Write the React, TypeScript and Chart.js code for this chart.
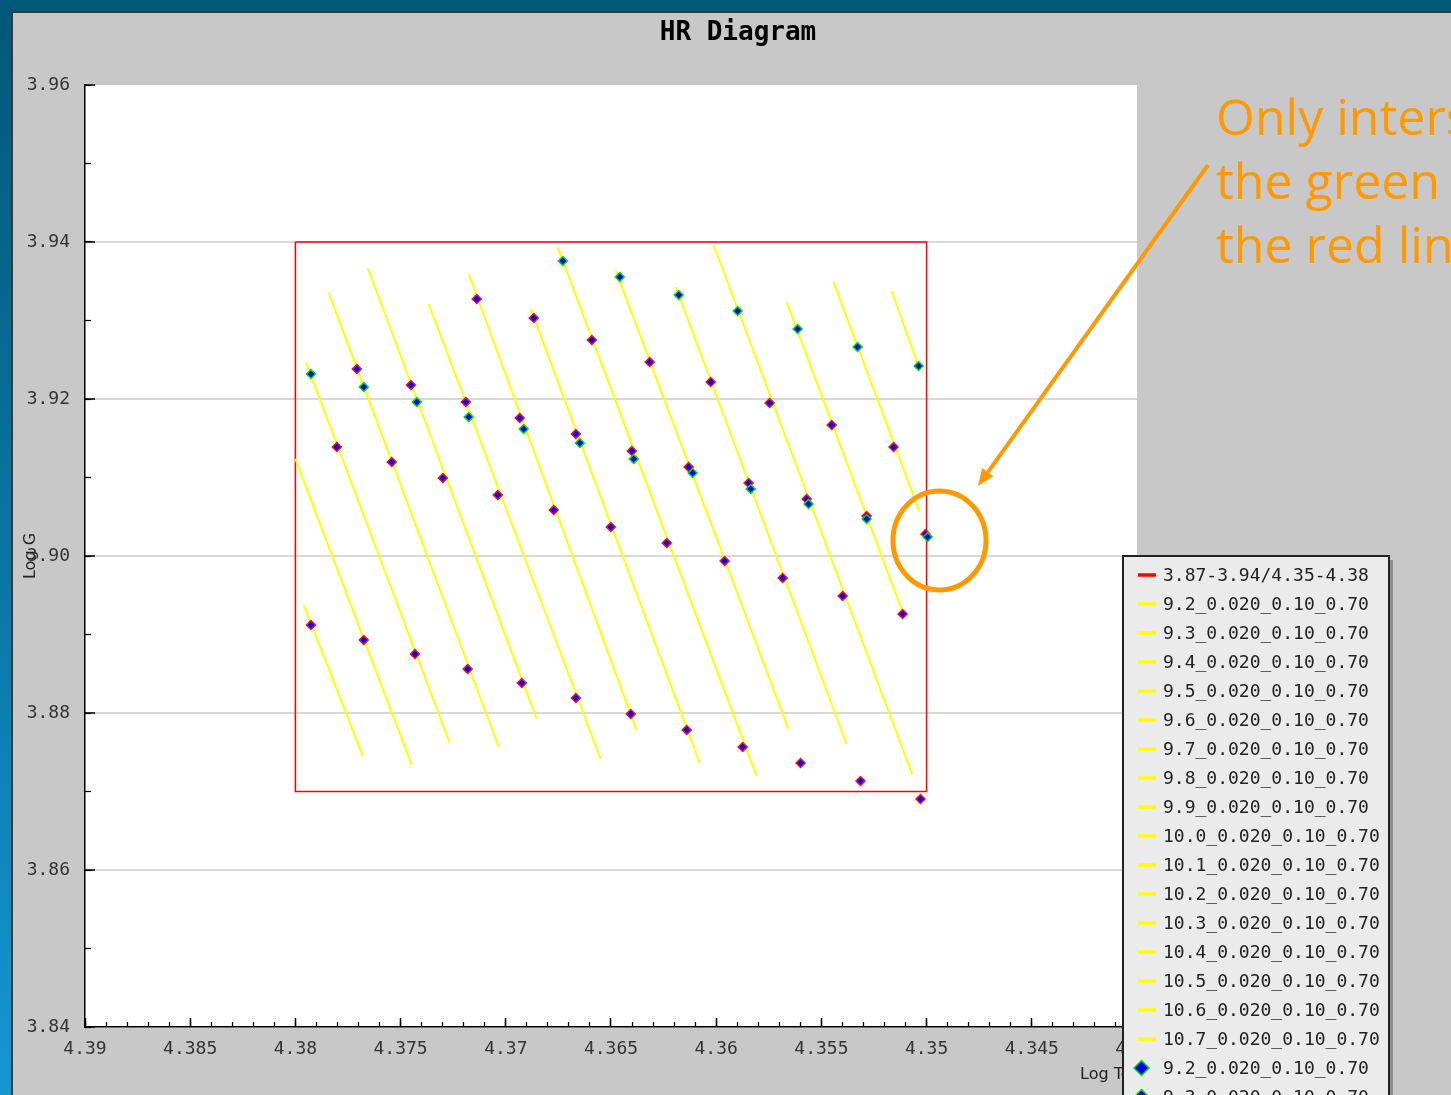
import React, { useEffect, useRef } from 'react';
import { Chart, registerables } from 'chart.js';

Chart.register(...registerables);

// ---------- texts ----------
const CHART_TITLE = 'HR Diagram';
const X_TITLE = 'Log Teff';
const Y_TITLE = 'Log G';
const NOTE_LINES = ['Only intersection between', 'the green line and', 'the red line'];

// ---------- axes ----------
const X_MIN = 4.34;
const X_MAX = 4.39;
const X_MAJOR = 0.005;
const X_MINOR = 0.001;
const Y_MIN = 3.84;
const Y_MAX = 3.96;
const Y_MAJOR = 0.02;
const Y_MINOR = 0.01;

// ---------- selection box ----------
const BOX_LABEL = '3.87-3.94/4.35-4.38';
const BOX_TEFF = [4.38, 4.35, 4.35, 4.38, 4.38];
const BOX_LOGG = [3.94, 3.94, 3.87, 3.87, 3.94];

// ---------- isochrones ----------
const AGES = ['9.2', '9.3', '9.4', '9.5', '9.6', '9.7', '9.8', '9.9', '10.0', '10.1', '10.2', '10.3', '10.4', '10.5', '10.6', '10.7'];
const SERIES_SUFFIX = '_0.020_0.10_0.70';

const TRACK_TEFF: number[][] = [
  [4.3796, 4.37679],
  [4.38, 4.37447],
  [4.3795, 4.37266],
  [4.37841, 4.37033],
  [4.37656, 4.36853],
  [4.37366, 4.36549],
  [4.37176, 4.36378],
  [4.36881, 4.36078],
  [4.36753, 4.35808],
  [4.36477, 4.35656],
  [4.36192, 4.3538],
  [4.36012, 4.35067],
  [4.35665, 4.35105],
  [4.35442, 4.35033],
  [4.35166, 4.35038],
  [],
];
const TRACK_LOGG: number[][] = [
  [3.89376, 3.87452],
  [3.91236, 3.87338],
  [3.92471, 3.87618],
  [3.9335, 3.87567],
  [3.93669, 3.87924],
  [3.9321, 3.87414],
  [3.93592, 3.87783],
  [3.93147, 3.87363],
  [3.93936, 3.87198],
  [3.93631, 3.87796],
  [3.93427, 3.87605],
  [3.93962, 3.8721],
  [3.93236, 3.89223],
  [3.9349, 3.90561],
  [3.93376, 3.9242],
  [],
];

// markers with green outline
const GREEN_TEFF: number[][] = [
  [], [], [4.37926], [4.37675], [4.37423], [4.37176], [4.36915], [4.36648],
  [4.36729, 4.36392], [4.36458, 4.36112], [4.36178, 4.35836], [4.35898, 4.35561],
  [4.35613, 4.35285], [4.35328, 4.34995], [4.35038], [],
];
const GREEN_LOGG: number[][] = [
  [], [], [3.92318], [3.92153], [3.91962], [3.91771], [3.91618], [3.91439],
  [3.93758, 3.91236], [3.93554, 3.91057], [3.93325, 3.90853], [3.93121, 3.90662],
  [3.92892, 3.90471], [3.92662, 3.90242], [3.9242], [],
];

// markers with red outline
const RED_TEFF: number[][] = [
  [4.37926], [4.37675], [4.37803, 4.37432], [4.37708, 4.37542, 4.37181], [4.37451, 4.37299, 4.36924],
  [4.3719, 4.37038, 4.36667], [4.37138, 4.36934, 4.36772, 4.36406], [4.36867, 4.36667, 4.36501, 4.3614],
  [4.36591, 4.36401, 4.36235, 4.35874], [4.36316, 4.36131, 4.3596, 4.35599], [4.36026, 4.35846, 4.35684, 4.35314],
  [4.35746, 4.3557, 4.35399, 4.35029], [4.35451, 4.35285, 4.35114], [4.35157, 4.35005], [], [],
];
const RED_LOGG: number[][] = [
  [3.89121], [3.8893], [3.91389, 3.88752], [3.92382, 3.91197, 3.88561], [3.92178, 3.90994, 3.88382],
  [3.91962, 3.90777, 3.88191], [3.93274, 3.91758, 3.90586, 3.87987], [3.93032, 3.91554, 3.90369, 3.87783],
  [3.92752, 3.91338, 3.90166, 3.87567], [3.92471, 3.91134, 3.89936, 3.87363], [3.92217, 3.9093, 3.8972, 3.87134],
  [3.91949, 3.90726, 3.8949, 3.86904], [3.91669, 3.9051, 3.89261], [3.91389, 3.9028], [], [],
];

const MONO = '"DejaVu Sans Mono", monospace';
const SANS = '"DejaVu Sans", sans-serif';
const ORANGE = '#ff9900';

const toPoints = (xs: number[], ys: number[]) => xs.map((x, i) => ({ x, y: ys[i] }));

const decorPlugin: any = {
  id: 'decor',
  beforeDraw(chart: any) {
    const { ctx, chartArea: a } = chart;
    ctx.save();
    ctx.fillStyle = '#ffffff';
    ctx.fillRect(a.left, a.top, a.right - a.left, a.bottom - a.top);
    ctx.restore();
  },
  afterDraw(chart: any) {
    const ctx: CanvasRenderingContext2D = chart.ctx;
    const a = chart.chartArea;
    ctx.save();

    // ----- x axis title (partly hidden by the legend) -----
    ctx.font = `16px ${SANS}`;
    ctx.fillStyle = '#222';
    ctx.textAlign = 'left';
    ctx.textBaseline = 'middle';
    ctx.fillText(X_TITLE, a.right - 57, 1062);

    // ----- legend box -----
    const lx = a.right - 14;
    const ly = 543;
    const lw = 266;
    const lh = 700;
    ctx.fillStyle = '#8e8e8e';
    ctx.fillRect(lx + 4, ly + 4, lw, lh);
    ctx.fillStyle = '#ebebeb';
    ctx.fillRect(lx, ly, lw, lh);
    ctx.strokeStyle = '#222';
    ctx.lineWidth = 2;
    ctx.strokeRect(lx, ly, lw, lh);

    ctx.font = `18px ${MONO}`;
    ctx.textBaseline = 'middle';
    ctx.textAlign = 'left';
    chart.data.datasets.forEach((ds: any, i: number) => {
      const y = ly + 19 + i * 29;
      if (ds.showLine) {
        ctx.strokeStyle = ds.borderColor;
        ctx.lineWidth = 3.5;
        ctx.beginPath();
        ctx.moveTo(lx + 15, y);
        ctx.lineTo(lx + 33, y);
        ctx.stroke();
      } else {
        const cx = lx + 18.5;
        const r = 7.5;
        ctx.beginPath();
        ctx.moveTo(cx, y - r);
        ctx.lineTo(cx + r, y);
        ctx.lineTo(cx, y + r);
        ctx.lineTo(cx - r, y);
        ctx.closePath();
        ctx.fillStyle = ds.pointBackgroundColor;
        ctx.fill();
        ctx.strokeStyle = ds.pointBorderColor;
        ctx.lineWidth = 1.5;
        ctx.stroke();
      }
      ctx.fillStyle = '#222';
      ctx.fillText(ds.label, lx + 40, y + 1);
    });

    // ----- annotation -----
    ctx.strokeStyle = ORANGE;
    ctx.fillStyle = ORANGE;
    ctx.lineWidth = 5;
    ctx.beginPath();
    ctx.ellipse(926.5, 527.5, 46.5, 49.5, 0, 0, Math.PI * 2);
    ctx.stroke();

    const sx = 1195, sy = 152, tx = 965, ty = 473;
    const dx = tx - sx, dy = ty - sy;
    const len = Math.hypot(dx, dy);
    const ux = dx / len, uy = dy / len;
    const headL = 17, headW = 7;
    const bx = tx - ux * headL, by = ty - uy * headL;
    ctx.lineWidth = 4;
    ctx.beginPath();
    ctx.moveTo(sx, sy);
    ctx.lineTo(bx, by);
    ctx.stroke();
    ctx.beginPath();
    ctx.moveTo(tx, ty);
    ctx.lineTo(bx - uy * headW, by + ux * headW);
    ctx.lineTo(bx + uy * headW, by - ux * headW);
    ctx.closePath();
    ctx.fill();

    ctx.font = `50px "Open Sans", sans-serif`;
    ctx.textBaseline = 'alphabetic';
    NOTE_LINES.forEach((t, i) => ctx.fillText(t, 1203, 122 + i * 64));

    ctx.restore();
  },
};

export default function App() {
  const ref = useRef<HTMLCanvasElement>(null);

  useEffect(() => {
    if (!ref.current) return;
    const datasets: any[] = [];
    datasets.push({
      label: BOX_LABEL,
      data: toPoints(BOX_TEFF, BOX_LOGG),
      showLine: true,
      borderColor: '#ff0000',
      borderWidth: 1.5,
      pointRadius: 0,
      order: 3,
      xAxisID: 'x',
      yAxisID: 'y',
    });
    AGES.forEach((age, i) => {
      datasets.push({
        label: age + SERIES_SUFFIX,
        data: toPoints(TRACK_TEFF[i], TRACK_LOGG[i]),
        showLine: true,
        borderColor: '#ffff00',
        borderWidth: 2,
        pointRadius: 0,
        order: 2,
        xAxisID: 'x',
        yAxisID: 'y',
      });
    });
    AGES.forEach((age, i) => {
      datasets.push({
        label: age + SERIES_SUFFIX,
        data: toPoints(GREEN_TEFF[i], GREEN_LOGG[i]),
        showLine: false,
        pointStyle: 'rectRot',
        pointRadius: 4.5,
        pointBorderWidth: 1.5,
        pointBackgroundColor: '#0000ff',
        pointBorderColor: '#00e000',
        backgroundColor: '#0000ff',
        borderColor: '#00e000',
        order: 0,
        xAxisID: 'x',
        yAxisID: 'y',
      });
    });
    AGES.forEach((age, i) => {
      datasets.push({
        label: age + SERIES_SUFFIX,
        data: toPoints(RED_TEFF[i], RED_LOGG[i]),
        showLine: false,
        pointStyle: 'rectRot',
        pointRadius: 4.5,
        pointBorderWidth: 1.5,
        pointBackgroundColor: '#0000ff',
        pointBorderColor: '#ff1010',
        backgroundColor: '#0000ff',
        borderColor: '#ff1010',
        order: 1,
        xAxisID: 'x',
        yAxisID: 'y',
      });
    });

    const chart = new Chart(ref.current, {
      type: 'scatter',
      data: { datasets },
      plugins: [decorPlugin],
      options: {
        animation: false,
        responsive: false,
        devicePixelRatio: 1,
        events: [],
        layout: { padding: { left: 0, right: 0, top: 0, bottom: 0 } },
        plugins: {
          legend: { display: false },
          tooltip: { enabled: false },
          title: {
            display: true,
            text: CHART_TITLE,
            color: '#000',
            font: { family: MONO, size: 26, weight: 'bold' },
            padding: { top: 4.4, bottom: 36.4 },
          },
        },
        scales: {
          x: {
            type: 'linear',
            position: 'bottom',
            reverse: true,
            min: X_MIN,
            max: X_MAX,
            weight: 1,
            ticks: {
              stepSize: X_MAJOR,
              autoSkip: false,
              maxRotation: 0,
              padding: 21,
              color: '#333',
              font: { family: MONO, size: 18 },
              callback: (v: any) => Number(v).toFixed(3).replace(/0+$/, '').replace(/\.$/, ''),
            },
            grid: { drawOnChartArea: false, tickLength: -9, tickColor: '#000', tickWidth: 1.5 },
            border: { display: true, color: '#000', width: 1.5 },
            afterFit: (s: any) => { s.height = 68; },
          },
          xMinor: {
            type: 'linear',
            axis: 'x',
            position: 'bottom',
            reverse: true,
            min: X_MIN,
            max: X_MAX,
            weight: 0,
            ticks: { stepSize: X_MINOR, display: false },
            grid: { drawOnChartArea: false, tickLength: -5, tickColor: '#000', tickWidth: 1.2 },
            border: { display: false },
            afterFit: (s: any) => { s.height = 0; },
          },
          y: {
            type: 'linear',
            position: 'left',
            min: Y_MIN,
            max: Y_MAX,
            weight: 1,
            ticks: {
              stepSize: Y_MAJOR,
              autoSkip: false,
              padding: 25,
              color: '#333',
              font: { family: MONO, size: 18 },
              callback: (v: any) => Number(v).toFixed(2),
            },
            grid: {
              drawOnChartArea: true,
              color: (c: any) => (c.tick && Math.abs(c.tick.value - Y_MAX) < 1e-9 ? 'rgba(0,0,0,0)' : '#d8d8d8'),
              lineWidth: 2,
              tickLength: -10,
              tickColor: '#000',
              tickWidth: 1.5,
            },
            border: { display: true, color: '#000', width: 1.5 },
            title: {
              display: true,
              text: Y_TITLE,
              color: '#222',
              font: { family: SANS, size: 16 },
              padding: { top: 8, bottom: 0 },
            },
            afterFit: (s: any) => { s.width = 72; },
          },
          yMinor: {
            type: 'linear',
            axis: 'y',
            position: 'left',
            min: Y_MIN,
            max: Y_MAX,
            weight: 0,
            ticks: { stepSize: Y_MINOR, display: false },
            grid: { drawOnChartArea: false, tickLength: -6, tickColor: '#000', tickWidth: 1.2 },
            border: { display: false },
            afterFit: (s: any) => { s.width = 0; },
          },
          yRight: {
            type: 'linear',
            axis: 'y',
            position: 'right',
            min: Y_MIN,
            max: Y_MAX,
            ticks: { display: false },
            grid: { display: false, drawTicks: false },
            border: { display: false },
            afterFit: (s: any) => { s.width = 326; },
          },
        },
      } as any,
    });
    return () => chart.destroy();
  }, []);

  return (
    <div
      style={{
        position: 'fixed',
        left: 0,
        top: 0,
        width: 1451,
        height: 1095,
        overflow: 'hidden',
        background: 'linear-gradient(180deg, #00587a 0%, #0a78a8 55%, #1497d2 100%)',
      }}
    >
      <div
        style={{
          position: 'absolute',
          left: 11,
          top: 11,
          width: 1460,
          height: 1100,
          background: '#c8c8c8',
          borderLeft: '2px solid #3a3a3a',
          borderTop: '2px solid #3a3a3a',
        }}
      >
        <canvas
          ref={ref}
          width={1450}
          height={1082}
          style={{ position: 'absolute', left: 0, top: 0, width: 1450, height: 1082 }}
        />
      </div>
    </div>
  );
}
